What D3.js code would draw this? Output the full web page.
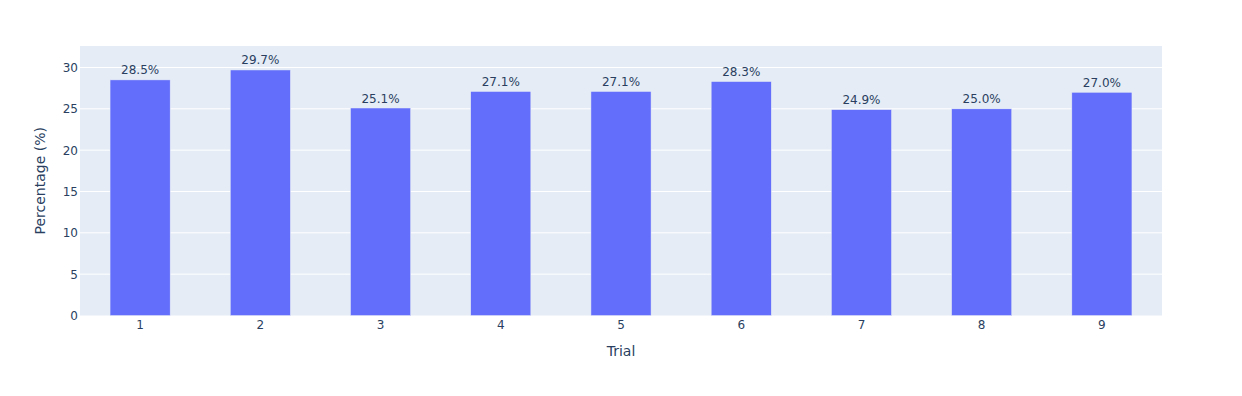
<!DOCTYPE html>
<html>
<head>
<meta charset="utf-8">
<script src="https://cdn.jsdelivr.net/npm/d3@7"></script>
<style>
html,body{margin:0;padding:0;background:#fff;}
svg text{font-family:"DejaVu Sans",verdana,arial,sans-serif;fill:#2a3f5f;}
</style>
</head>
<body>
<svg id="chart" width="1242" height="396"></svg>
<script>
const categories = ["1","2","3","4","5","6","7","8","9"];
const values = [28.5, 29.7, 25.1, 27.1, 27.1, 28.3, 24.9, 25.0, 27.0];
const yTicks = [0, 5, 10, 15, 20, 25, 30];
const xTitle = "Trial";
const yTitle = "Percentage (%)";

const FONT = '"DejaVu Sans",verdana,arial,sans-serif';
const margin = {left: 80, top: 46, right: 80, bottom: 80.5};
const W = 1242, H = 396;
const pw = W - margin.left - margin.right;
const ph = H - margin.top - margin.bottom;

const svg = d3.select("#chart");
const g = svg.append("g").attr("transform", `translate(${margin.left},${margin.top})`);

g.append("rect").attr("width", pw).attr("height", ph).attr("fill", "#E5ECF6");

const x = d3.scaleBand().domain(categories).range([0, pw]).paddingInner(0.5).paddingOuter(0.25);
const y = d3.scaleLinear().domain([0, 32.6]).range([ph, 0]);

// grid
g.selectAll(".grid").data(yTicks.filter(d => d > 0)).enter().append("line")
  .attr("x1", 0).attr("x2", pw)
  .attr("y1", d => y(d)).attr("y2", d => y(d))
  .attr("stroke", "#fff").attr("stroke-width", 1);

// bars
g.selectAll(".bar").data(values).enter().append("rect")
  .attr("x", (d, i) => x(categories[i]))
  .attr("width", x.bandwidth())
  .attr("y", d => y(d))
  .attr("height", d => y(0) - y(d))
  .attr("fill", "#636efa")
  .attr("stroke", "#E5ECF6").attr("stroke-width", 0.5);

// labels
g.selectAll(".lbl").data(values).enter().append("text")
  .attr("x", (d, i) => x(categories[i]) + x.bandwidth() / 2)
  .attr("y", d => y(d) - 5.5)
  .attr("text-anchor", "middle")
  .attr("font-size", 12)
  .text(d => d.toFixed(1) + "%");

// y axis
const yAxis = d3.axisLeft(y).tickValues(yTicks).tickSize(0).tickPadding(0);
const ya = g.append("g").attr("transform", "translate(-2,0)").call(yAxis);
ya.select(".domain").remove();
ya.selectAll("text").attr("font-size", 12).attr("fill", "#2a3f5f").style("font-family", FONT);

// x axis
const xAxis = d3.axisBottom(x).tickSize(0).tickPadding(0);
const xa = g.append("g").attr("transform", `translate(0,${ph + 5})`).call(xAxis);
xa.select(".domain").remove();
xa.selectAll("text").attr("font-size", 12).attr("fill", "#2a3f5f").style("font-family", FONT);

// titles
svg.append("text").attr("x", margin.left + pw / 2).attr("y", 356)
  .attr("text-anchor", "middle").attr("font-size", 14).text(xTitle);
svg.append("text").attr("transform", `translate(45,${margin.top + ph / 2}) rotate(-90)`)
  .attr("text-anchor", "middle").attr("font-size", 14).text(yTitle);
</script>
</body>
</html>
